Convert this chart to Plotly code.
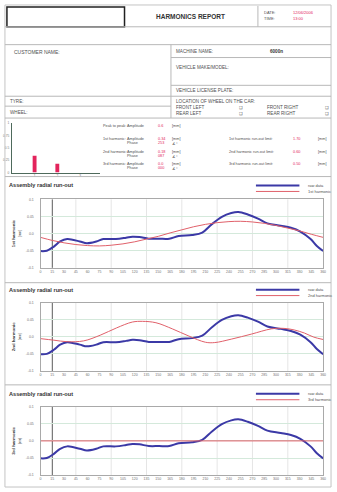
import plotly.graph_objects as go

W, H = 337, 492
FONT = "Liberation Sans, Arial, sans-serif"
INK = "#505050"
RED = "#e3245c"
BLUE = "#3b39a6"
HARM_RED = "#e0606a"

# ---- measured data -------------------------------------------------------
raw_angle = [0, 8, 17, 25, 34, 50, 59, 71, 80, 96, 109, 117, 126, 138, 151, 164,
             176, 193, 206, 218, 231, 243, 252, 264, 277, 289, 306, 319, 331, 344,
             352, 360]
raw_runout = [-0.051, -0.050, -0.038, -0.023, -0.016, -0.023, -0.028, -0.023,
              -0.016, -0.016, -0.012, -0.009, -0.010, -0.015, -0.015, -0.015,
              -0.007, -0.004, 0.003, 0.027, 0.049, 0.060, 0.063, 0.056, 0.044,
              0.030, 0.023, 0.017, 0.006, -0.016, -0.036, -0.051]

h1_angle = [0, 15, 30, 45, 60, 75, 90, 105, 120, 135, 150, 165, 180, 195, 210,
            225, 240, 255, 270, 285, 300, 315, 330, 345, 360]
h1_runout = [-0.011, -0.020, -0.027, -0.032, -0.035, -0.036, -0.034, -0.030,
             -0.024, -0.016, -0.008, 0.002, 0.011, 0.020, 0.027, 0.032, 0.035,
             0.036, 0.034, 0.030, 0.024, 0.016, 0.008, -0.002, -0.011]

h2_angle = [0, 17, 34, 55, 76, 97, 117, 130, 147, 168, 189, 210, 222, 243, 269,
            294, 310, 323, 336, 348, 360]
h2_runout = [-0.0055, -0.010, -0.0145, -0.012, 0.0045, 0.026, 0.043, 0.045,
             0.041, 0.023, 0.002, -0.016, -0.017, -0.007, 0.008, 0.023, 0.0245,
             0.020, 0.011, -0.001, -0.008]

h3_angle = [0, 360]
h3_runout = [0.0, 0.0]

harmonic_no = [1, 2, 3]
harmonic_names = ["1st harmonic", "2nd harmonic", "3rd harmonic"]
harmonic_amp = [0.34, 0.18, 0.0]
harmonic_phase = ["253", "087", "000"]
runout_limit = ["1.70", "0.60", "0.50"]
peak_to_peak = "0.6"

x_ticks = list(range(0, 361, 15))
grid_angles = [45, 90, 135, 180, 225, 270, 315]
marker_angle = 15
y_tickvals = [0.1, 0.05, 0.0, -0.05, -0.1]
y_ticktext = ["0.1", "0.05", "0.0", "-0.05", "-0.1"]
bar_tickvals = [0, 0.25, 0.5, 0.75, 1]
bar_ticktext = ["0", "0.25", "0.5", "0.75", "1"]


def px(x):
    return x / W


def py(y):
    return 1 - y / H


shapes = []
annotations = []


def hline(y, x0=4, x1=334, color="#b8b8b8", width=1):
    shapes.append(dict(type="line", xref="paper", yref="paper", x0=px(x0), x1=px(x1),
                       y0=py(y), y1=py(y), line=dict(color=color, width=width)))


def vline(x, y0, y1, color="#b8b8b8", width=1):
    shapes.append(dict(type="line", xref="paper", yref="paper", x0=px(x), x1=px(x),
                       y0=py(y0), y1=py(y1), line=dict(color=color, width=width)))


def text(s, x, y, size=4.5, color=INK, bold=False, anchor="left"):
    annotations.append(dict(text=f"<b>{s}</b>" if bold else s, x=px(x), y=py(y),
                            xref="paper", yref="paper", xanchor=anchor, yanchor="middle",
                            showarrow=False, borderpad=0,
                            font=dict(size=size, color=color, family=FONT)))


# ---- page frame and form ---------------------------------------------------
shapes.append(dict(type="rect", xref="paper", yref="paper", x0=px(4), x1=px(334),
                   y0=py(489), y1=py(3), line=dict(color="#c4c4c4", width=1)))
shapes.append(dict(type="rect", xref="paper", yref="paper", x0=px(6), x1=px(125),
                   y0=py(25), y1=py(5), line=dict(color="#202020", width=1.5)))
vline(260, 4, 25)
hline(25)
hline(43)
vline(172, 43, 117)
hline(56, 172)
hline(84, 172)
hline(95)
hline(105, 4, 172)
hline(117)
hline(176)
hline(283)
hline(386)

text("HARMONICS REPORT", 192, 15, size=6.5, color="#333", bold=True, anchor="center")
text("DATE:", 265, 11, size=4)
text("TIME:", 265, 17, size=4)
text("12/06/2006", 294, 11, size=4, color=RED)
text("13:00", 294, 17, size=4, color=RED)

text("CUSTOMER NAME:", 12, 50, size=5)
text("MACHINE NAME:", 176, 50, size=4.6)
text("6000n", 271, 50, size=4.6, color="#333", bold=True)
text("VEHICLE MAKE/MODEL:", 176, 66, size=4.6)
text("VEHICLE LICENSE PLATE:", 176, 89, size=4.6)
text("TYRE:", 8, 100, size=4.6)
text("WHEEL:", 8, 111, size=4.6)
text("LOCATION OF WHEEL ON THE CAR:", 176, 100, size=4.6)
text("FRONT LEFT", 176, 106, size=4.6)
text("REAR LEFT", 176, 112, size=4.6)
text("FRONT RIGHT", 268, 106, size=4.6)
text("REAR RIGHT", 268, 112, size=4.6)
for cy in (106, 112):
    text("❑", 240, cy, size=4.2)
    text("❑", 327, cy, size=4.2)

# ---- harmonic summary block ------------------------------------------------
text("Peak to peak:", 102, 125, size=3.8)
text("Amplitude", 127, 125, size=3.8)
text(peak_to_peak, 158, 125, size=3.8, color=RED)
text("[mm]", 172, 125, size=3.8)
row_y = [138, 151, 163]
for name, amp, ph, lim, ry in zip(harmonic_names, harmonic_amp, harmonic_phase,
                                  runout_limit, row_y):
    text(name + ":", 102, ry, size=3.8)
    text("Amplitude", 127, ry, size=3.8)
    text("Phase", 127, ry + 4, size=3.8)
    text(f"{amp:.2f}" if amp else "0.0", 158, ry, size=3.8, color=RED)
    text(ph, 158, ry + 4, size=3.8, color=RED)
    text("[mm]", 172, ry, size=3.8)
    text("∡°", 172, ry + 4.5, size=4)
    text(name + " run-out limit:", 230, ry, size=3.8)
    text(lim, 294, ry, size=3.8, color=RED)
    text("[mm]", 320, ry, size=3.8)

# ---- figure ----------------------------------------------------------------
fig = go.Figure()

fig.add_trace(go.Bar(x=harmonic_no, y=harmonic_amp, width=0.17,
                     marker=dict(color=RED, line=dict(width=0)),
                     xaxis="x", yaxis="y", hoverinfo="skip"))

layout_axes = dict(
    xaxis=dict(domain=[px(11), px(100)], range=[0, 3.87], tickvals=harmonic_no,
               tickfont=dict(size=3.2, color="#777"), showgrid=False, zeroline=False,
               showline=True, linecolor="#4e6a5c", linewidth=1, anchor="y", ticks=""),
    yaxis=dict(domain=[py(172), py(122)], range=[0, 1], tickvals=bar_tickvals,
               ticktext=bar_ticktext, tickfont=dict(size=3.2, color="#777"),
               showgrid=False, zeroline=False, showline=True, linecolor="#4e6a5c",
               linewidth=1, anchor="x", ticks="", ticklabelstandoff=1),
)

panels = [
    (2, 199, 268, 185, "1st harmonic", h1_angle, h1_runout),
    (3, 303, 372, 290, "2nd harmonic", h2_angle, h2_runout),
    (4, 408, 477, 395, "3rd harmonic", h3_angle, h3_runout),
]

for n, top, bottom, head_y, hname, ha, hv in panels:
    xa, ya = f"x{n}", f"y{n}"
    fig.add_trace(go.Scatter(x=raw_angle, y=raw_runout, mode="lines",
                             line=dict(color=BLUE, width=2, shape="spline", smoothing=1),
                             xaxis=xa, yaxis=ya, hoverinfo="skip"))
    fig.add_trace(go.Scatter(x=ha, y=hv, mode="lines",
                             line=dict(color=HARM_RED, width=1, shape="spline", smoothing=1),
                             xaxis=xa, yaxis=ya, hoverinfo="skip"))
    layout_axes[f"xaxis{n}"] = dict(
        domain=[px(40), px(326)], range=[0, 360], tickvals=x_ticks,
        tickfont=dict(size=3.5, color="#707070"), showgrid=False, zeroline=False,
        showline=True, mirror=True, linecolor="#a9a9a9", linewidth=1,
        anchor=ya, ticks="")
    layout_axes[f"yaxis{n}"] = dict(
        domain=[py(bottom), py(top)], range=[-0.1, 0.1], tickvals=y_tickvals,
        ticktext=y_ticktext, tickfont=dict(size=3.5, color="#707070"),
        showgrid=True, gridcolor="#d4e9db", gridwidth=1, zeroline=False,
        showline=True, mirror=True, linecolor="#a9a9a9", linewidth=1,
        anchor=xa, ticks="", ticklabelstandoff=5,
        title=dict(text=f"<b>{hname}</b><br><span style='font-size:3px'>[mm]</span>",
                   font=dict(size=4.4, color="#404040"), standoff=4))
    for a in grid_angles:
        shapes.append(dict(type="line", xref=xa, yref=f"{ya} domain", x0=a, x1=a,
                           y0=0, y1=1, layer="below",
                           line=dict(color="#dedede", width=0.8)))
    shapes.append(dict(type="line", xref=xa, yref=f"{ya} domain", x0=marker_angle,
                       x1=marker_angle, y0=0, y1=1, layer="below",
                       line=dict(color="#5a5a5a", width=1)))
    # panel heading and key
    text("Assembly radial run-out", 7, head_y, size=5.6, color="#333", bold=True)
    shapes.append(dict(type="line", xref="paper", yref="paper", x0=px(258), x1=px(302),
                       y0=py(head_y), y1=py(head_y), line=dict(color=BLUE, width=2)))
    shapes.append(dict(type="line", xref="paper", yref="paper", x0=px(258), x1=px(302),
                       y0=py(head_y + 6), y1=py(head_y + 6),
                       line=dict(color=HARM_RED, width=1)))
    text("raw data", 310, head_y, size=4)
    text(hname, 310, head_y + 6, size=4)

fig.update_layout(
    width=W, height=H, margin=dict(l=0, r=0, t=0, b=0),
    paper_bgcolor="white", plot_bgcolor="white", showlegend=False,
    font=dict(family=FONT, color=INK),
    shapes=shapes, annotations=annotations, **layout_axes,
)

fig.write_html("out.html")
